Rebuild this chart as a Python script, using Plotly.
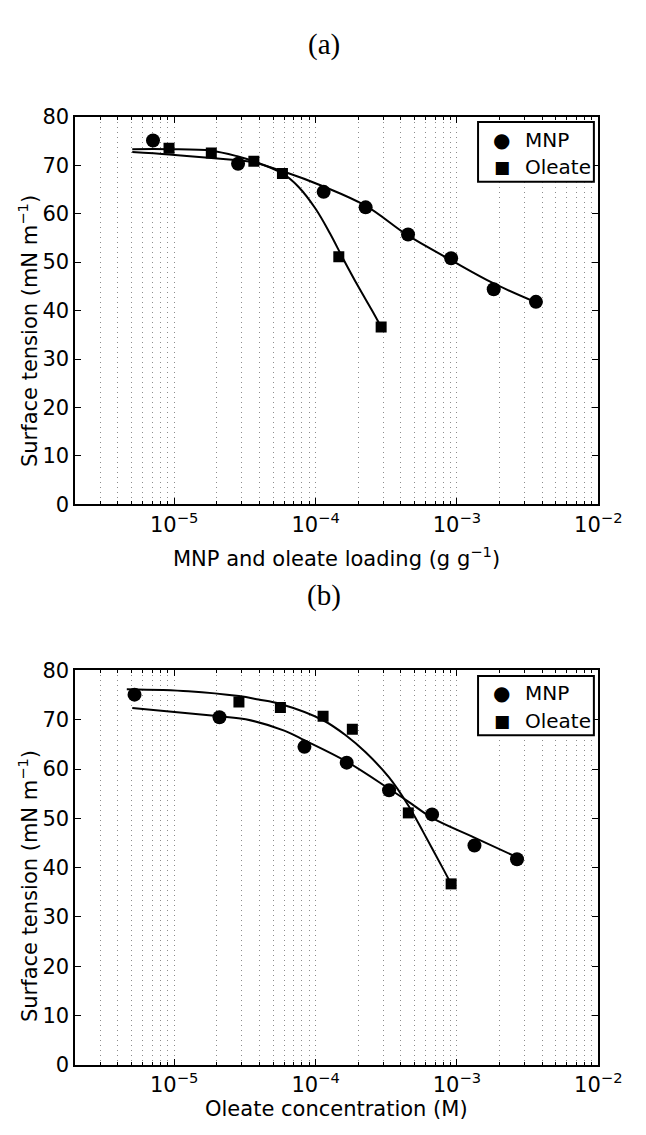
import plotly.graph_objects as go

# ---------------- data ----------------
# panel (a): x = MNP and oleate loading (g/g)
a_mnp_x = [7.08e-6, 2.83e-5, 1.14e-4, 2.26e-4, 4.51e-4, 9.1e-4, 1.82e-3, 3.62e-3]
a_mnp_y = [75.1, 70.3, 64.5, 61.3, 55.7, 50.8, 44.4, 41.8]
a_ole_x = [9.19e-6, 1.83e-5, 3.66e-5, 5.83e-5, 1.46e-4, 2.91e-4]
a_ole_y = [73.5, 72.5, 70.8, 68.3, 51.1, 36.6]

a_mnp_fit_x = [5.05e-6, 9.2e-6, 1.83e-5, 2.83e-5, 3.5e-5, 5.8e-5, 1.14e-4,
               2.27e-4, 4.5e-4, 9.1e-4, 1.82e-3, 3.62e-3]
a_mnp_fit_y = [72.7, 72.2, 71.5, 71.0, 70.7, 68.8, 65.6,
               61.6, 55.5, 50.4, 45.6, 41.7]
a_ole_fit_x = [5.05e-6, 9.2e-6, 1.83e-5, 2.83e-5, 3.66e-5, 5.83e-5, 7.59e-5, 1.0e-4,
               1.26e-4, 1.58e-4, 2.0e-4, 2.51e-4, 2.91e-4]
a_ole_fit_y = [73.3, 73.3, 73.0, 71.8, 70.8, 68.3, 65.5, 61.0,
               56.0, 50.5, 45.0, 40.0, 36.6]

# panel (b): x = oleate concentration (M)
b_mnp_x = [5.24e-6, 2.09e-5, 8.34e-5, 1.66e-4, 3.31e-4, 6.67e-4, 1.33e-3, 2.66e-3]
b_mnp_y = [75.1, 70.5, 64.5, 61.3, 55.7, 50.8, 44.5, 41.7]
b_ole_x = [2.87e-5, 5.64e-5, 1.13e-4, 1.82e-4, 4.53e-4, 9.1e-4]
b_ole_y = [73.6, 72.5, 70.7, 68.1, 51.1, 36.7]

b_mnp_fit_x = [5.05e-6, 2.09e-5, 3.2e-5, 6.0e-5, 8.4e-5, 1.66e-4, 3.31e-4, 4.53e-4,
               6.67e-4, 1.33e-3, 2.66e-3]
b_mnp_fit_y = [72.4, 70.7, 70.1, 67.8, 65.8, 61.5, 56.0, 53.4,
               50.1, 46.1, 42.1]
b_ole_fit_x = [4.62e-6, 1.26e-5, 2.87e-5, 3.95e-5, 5.64e-5, 1.13e-4, 1.66e-4, 2.26e-4,
               3.31e-4, 4.53e-4, 5.78e-4, 7.9e-4, 9.1e-4]
b_ole_fit_y = [76.2, 75.8, 74.8, 74.1, 73.2, 69.9, 66.7, 63.4,
               58.3, 52.6, 47.2, 40.0, 36.7]

series_names = ["MNP", "Oleate"]
x_major = [1e-5, 1e-4, 1e-3, 1e-2]
x_major_text = ["10<sup>−5</sup>", "10<sup>−4</sup>", "10<sup>−3</sup>", "10<sup>−2</sup>"]
y_ticks = [0, 10, 20, 30, 40, 50, 60, 70, 80]
x_minor = [m * 10.0 ** e for e in range(-6, -2) for m in range(2, 10)]

# ---------------- layout helpers ----------------
W, H = 646, 1135
FONT = "DejaVu Sans"
px = lambda v: v / W
py = lambda v: 1 - v / H

fig = go.Figure()

def add_panel(mx, my, ox, oy, mfx, mfy, ofx, ofy, xa, ya):
    for fx, fy in ((mfx, mfy), (ofx, ofy)):
        fig.add_trace(go.Scatter(x=fx, y=fy, mode="lines", xaxis=xa, yaxis=ya,
                                 line=dict(color="black", width=2, shape="spline", smoothing=1.0),
                                 showlegend=False, hoverinfo="skip"))
    fig.add_trace(go.Scatter(x=mx, y=my, mode="markers", name=series_names[0], xaxis=xa, yaxis=ya,
                             showlegend=False,
                             marker=dict(symbol="circle", size=14, color="black")))
    fig.add_trace(go.Scatter(x=ox, y=oy, mode="markers", name=series_names[1], xaxis=xa, yaxis=ya,
                             showlegend=False,
                             marker=dict(symbol="square", size=11, color="black")))

add_panel(a_mnp_x, a_mnp_y, a_ole_x, a_ole_y, a_mnp_fit_x, a_mnp_fit_y,
          a_ole_fit_x, a_ole_fit_y, "x", "y")
add_panel(b_mnp_x, b_mnp_y, b_ole_x, b_ole_y, b_mnp_fit_x, b_mnp_fit_y,
          b_ole_fit_x, b_ole_fit_y, "x2", "y2")

GRID = "#8c8c8c"
x_dom = [px(78.3), px(621.4)]
xcommon = dict(type="log", range=[-5.69897, -2], domain=x_dom,
               tickmode="array", tickvals=x_major, ticktext=x_major_text,
               ticks="inside", ticklen=6, tickwidth=1, tickcolor="black",
               showline=True, linecolor="black", linewidth=2, mirror="ticks",
               showgrid=True, gridcolor=GRID, griddash="1px,4px", gridwidth=1,
               zeroline=False,
               tickfont=dict(family=FONT, size=21, color="black"),
               minor=dict(tickmode="array", tickvals=x_minor, ticks="inside", ticklen=3,
                          tickcolor="black", showgrid=True, gridcolor=GRID,
                          griddash="1px,4px", gridwidth=1))
ycommon = dict(range=[0, 80], tickmode="array", tickvals=y_ticks,
               ticks="inside", ticklen=6, tickwidth=1, tickcolor="black",
               showline=True, linecolor="black", linewidth=2, mirror="ticks",
               showgrid=False, zeroline=False,
               tickfont=dict(family=FONT, size=21, color="black"))

fig.update_layout(
    width=W, height=H, margin=dict(l=0, r=0, t=0, b=0),
    paper_bgcolor="white", plot_bgcolor="white", showlegend=False,
    xaxis=dict(**xcommon, anchor="y"),
    yaxis=dict(**ycommon, domain=[py(503), py(107)], anchor="x"),
    xaxis2=dict(**xcommon, anchor="y2"),
    yaxis2=dict(**ycommon, domain=[py(1075.5), py(672.7)], anchor="x2"),
)

ann = [
    dict(text="(a)", x=px(336), y=py(33), font=dict(family="Liberation Serif", size=29)),
    dict(text="(b)", x=px(336), y=py(596), font=dict(family="Liberation Serif", size=29)),
    dict(text="MNP and oleate loading (g g<sup>−1</sup>)", x=px(350), y=py(557),
         font=dict(family=FONT, size=21)),
    dict(text="Oleate concentration (M)", x=px(350), y=py(1121),
         font=dict(family=FONT, size=21)),
    dict(text="Surface tension (mN m<sup>−1</sup>)", x=px(29), y=py(326), textangle=-90,
         font=dict(family=FONT, size=21)),
    dict(text="Surface tension (mN m<sup>−1</sup>)", x=px(29), y=py(893), textangle=-90,
         font=dict(family=FONT, size=21)),
]
for a in ann:
    a.update(xanchor="center")

# ---- legend boxes (one per panel), drawn as box + glyph + label ----
shapes = []
for top, bottom, row1, row2 in ((112.3, 173.3, 130.5, 158.8), (678.3, 739.0, 696.0, 724.0)):
    shapes.append(dict(type="rect", xref="paper", yref="paper", layer="above",
                       x0=px(496.5), x1=px(616.8), y0=py(bottom), y1=py(top),
                       line=dict(color="black", width=2), fillcolor="white"))
    ann.append(dict(text="●", x=px(521.2), y=py(row1), xanchor="center",
                    font=dict(family=FONT, size=20)))
    ann.append(dict(text="■", x=px(521.2), y=py(row2), xanchor="center",
                    font=dict(family=FONT, size=17)))
    ann.append(dict(text=series_names[0], x=px(543), y=py(row1), xanchor="left",
                    font=dict(family=FONT, size=20)))
    ann.append(dict(text=series_names[1], x=px(543), y=py(row2), xanchor="left",
                    font=dict(family=FONT, size=20)))

for a in ann:
    a.update(xref="paper", yref="paper", showarrow=False, yanchor="middle")
    a["font"]["color"] = "black"
fig.update_layout(annotations=ann, shapes=shapes)

fig.write_html("out.html")
